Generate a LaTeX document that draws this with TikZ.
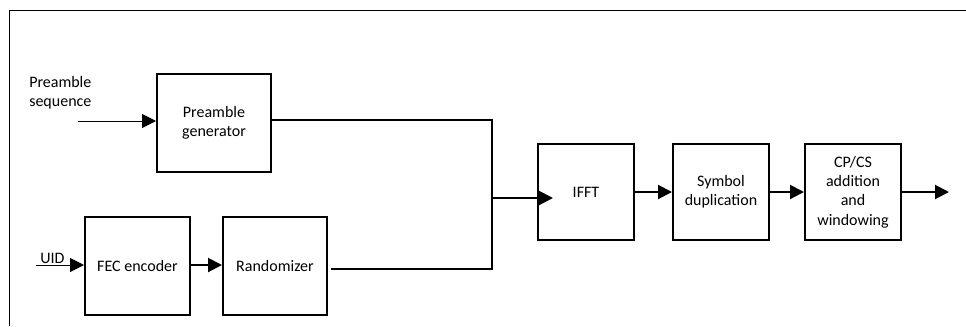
\documentclass[tikz,border=0pt]{standalone}
\usepackage{fontspec}
\setmainfont{Carlito}
\usetikzlibrary{arrows.meta}
\begin{document}
\begin{tikzpicture}[x=0.75pt,y=-0.75pt,
  blk/.style={draw,line width=1.5pt,inner sep=0pt,align=center,minimum height=73.5pt,
    font=\fontsize{12}{14.5}\selectfont},
  lbl/.style={inner sep=0pt,font=\fontsize{12}{14.5}\selectfont},
  thickarr/.style={line width=1.5pt,-{Triangle[length=10.5pt,width=10.5pt]}},
  thinarr/.style={line width=0.75pt,-{Triangle[length=10.5pt,width=10.5pt]}},
  thickline/.style={line width=1.5pt}]
\useasboundingbox (0,0) rectangle (966,326);
\draw[line width=0.75pt] (9,326) -- (9,10) -- (966,10);
% blocks
\node[blk,minimum width=85.5pt] (pg) at (214,123) {Preamble\\generator};
\node[blk,minimum width=78.75pt] (fec) at (137.5,266) {FEC encoder};
\node[blk,minimum width=78pt] (rnd) at (275,266) {Randomizer};
\node[blk,minimum width=72pt,minimum height=72pt] (ifft) at (586,192) {IFFT};
\node[blk,minimum width=72pt,minimum height=72pt] (sym) at (721,192) {Symbol\\duplication};
\node[blk,minimum width=72pt,minimum height=72pt] (cp) at (853,192) {CP/CS\\addition\\and\\windowing};
% labels
\node[lbl,anchor=west,align=left] (ps) at (29,92.5) {Preamble\\sequence};
\node[lbl,anchor=base west] (uid) at (40,263) {UID};
% coordinates
\coordinate (psin) at (78,121);
\coordinate (uidin) at (36,265);
\coordinate (jtop) at (492,120);
\coordinate (jmid) at (492,198);
\coordinate (jbot) at (492,269);
\coordinate (rout) at (331,269);
\coordinate (ifftin) at (553,198);
\coordinate (out) at (949,192);
% connectors
\draw[thinarr] (psin) -- (psin -| pg.west);
\draw[thinarr] (uidin) -- (uidin -| fec.west);
\draw[thickarr] (fec.east |- uidin) -- (rnd.west |- uidin);
\draw[thickline] (pg.east |- jtop) -- (jtop) -- (jbot) -- (rout);
\draw[thickarr] (jmid) -- (ifftin);
\draw[thickarr] (ifft.east) -- (sym.west);
\draw[thickarr] (sym.east) -- (cp.west);
\draw[thickarr] (cp.east) -- (out);
\end{tikzpicture}
\end{document}
